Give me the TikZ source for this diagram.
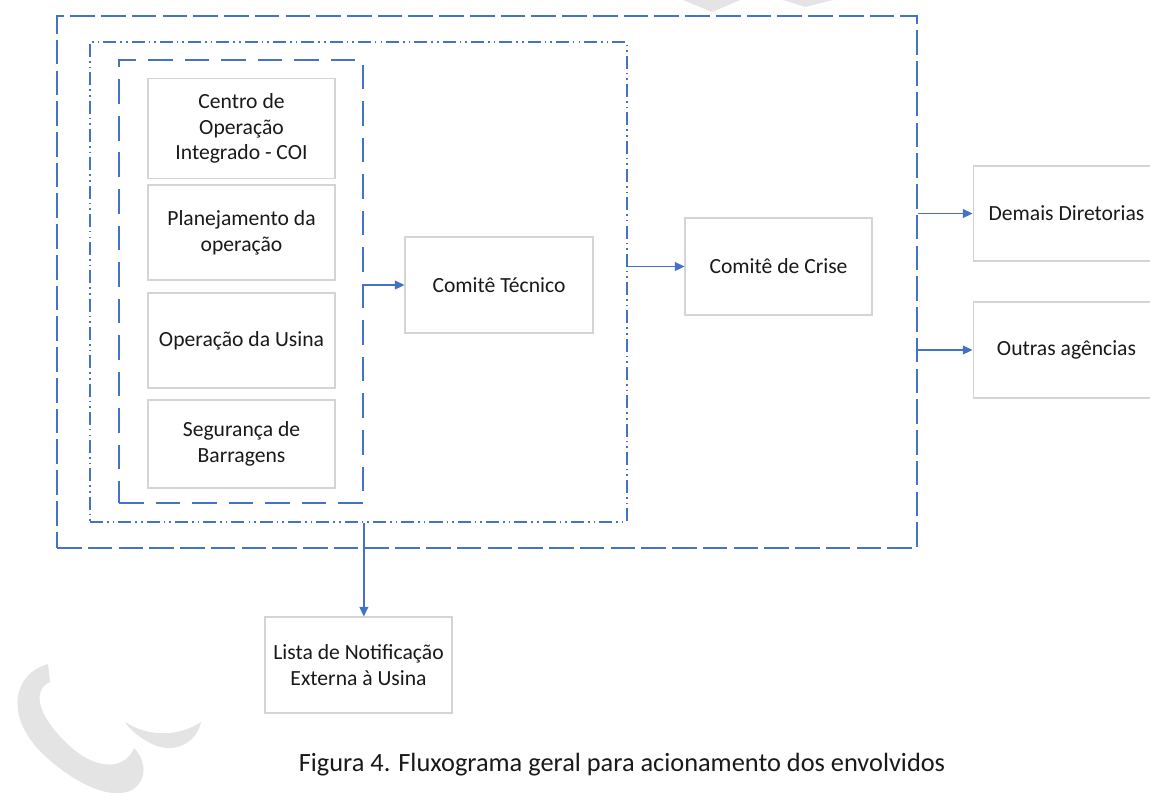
\documentclass[tikz,border=0pt]{standalone}
\usepackage{fontspec}
\setmainfont{Carlito}
\usetikzlibrary{arrows.meta,positioning,calc}

\definecolor{linkblue}{RGB}{68,114,196}
\definecolor{boxgray}{RGB}{212,212,212}
\definecolor{markgray}{RGB}{228,228,228}

\tikzset{
  box/.style = {draw = boxgray, line width = 0.6pt, minimum width = 3.74cm, align = center, inner sep = 2pt, text = black!90},
  frame/.style = {draw = linkblue, line width = 1pt, minimum width = 1pt, minimum height = 1pt, inner sep = 0pt},
  longdash/.style = {dash pattern = on 14pt off 3.5pt},
  shortdash/.style = {dash pattern = on 14pt off 6.8pt},
  dashdotdot/.style = {dash pattern = on 7.4pt off 2.3pt on 0.9pt off 2.3pt on 0.9pt off 2.3pt},
  link/.style = {draw = linkblue, line width = 1pt, -{Triangle[length = 5.5pt, width = 5pt]}}
}

\begin{document}
\begin{tikzpicture}[x = 0.02cm, y = -0.02cm, font = \fontsize{12.3}{14.7}\selectfont]
\useasboundingbox (0, 0) rectangle (1150, 796);
\clip (0, 0) rectangle (1150, 796);
\fill[markgray] (48, 664) .. controls (12, 674) and (4, 718) .. (45, 756) .. controls (78, 786) and (112, 800) .. (132, 790) .. controls (148, 780) and (146, 760) .. (134, 748) .. controls (126, 768) and (100, 772) .. (72, 748) .. controls (36, 716) and (32, 690) .. (50, 682) -- cycle;
\fill[markgray] (125, 722) .. controls (150, 738) and (180, 736) .. (201, 722) .. controls (196, 745) and (172, 754) .. (152, 744) .. controls (140, 738) and (130, 730) .. (125, 722) -- cycle;
\fill[markgray] (683, 0) -- (740, 0) -- (712, 12) -- cycle;
\fill[markgray] (783, 0) -- (833, 0) -- (805, 7) -- cycle;
\node[frame, longdash, minimum width = 17.2cm, minimum height = 10.64cm] (outer) at (487, 282) {};
\node[frame, dashdotdot, minimum width = 10.74cm, minimum height = 9.6cm] (usina) at (358.5, 282) {};
\node[frame, shortdash, minimum width = 4.88cm, minimum height = 8.86cm] (areas) at (241, 281.5) {};
\node[box, minimum height = 2cm] (coi) at (241.5, 128.5) {Centro de\\Operação\\Integrado - COI};
\node[box, minimum height = 1.9cm] (plan) at (241.5, 232.5) {Planejamento da\\operação};
\node[box, minimum height = 1.9cm] (opus) at (241.5, 340.5) {Operação da Usina};
\node[box, minimum height = 1.76cm] (seg) at (241.5, 444) {Segurança de\\Barragens};
\node[box, minimum width = 3.76cm, minimum height = 1.92cm] (tecnico) at (499, 285) {Comitê Técnico};
\node[box, minimum height = 1.94cm] (crise) at (778.5, 266.5) {Comitê de Crise};
\node[box, minimum height = 1.9cm] (demais) at (1066.5, 213.5) {Demais Diretorias};
\node[box, minimum height = 1.92cm] (outras) at (1066.5, 350) {Outras agências};
\node[box, minimum height = 1.92cm] (lista) at (358.5, 665) {Lista de Notificação\\Externa à Usina};
\draw[link] (areas.east |- tecnico.west) -- (tecnico.west);
\draw[link] (usina.east |- crise.west) -- (crise.west);
\draw[link] (outer.east |- demais.west) -- (demais.west);
\draw[link] (outer.east |- outras.west) -- (outras.west);
\draw[link] (usina.south -| areas.east) -- (lista.north -| areas.east);
\node[font = \fontsize{15}{18}\selectfont, text = black!90] (caption) at (622, 765) {Figura 4. Fluxograma geral para acionamento dos envolvidos};
\end{tikzpicture}
\end{document}
